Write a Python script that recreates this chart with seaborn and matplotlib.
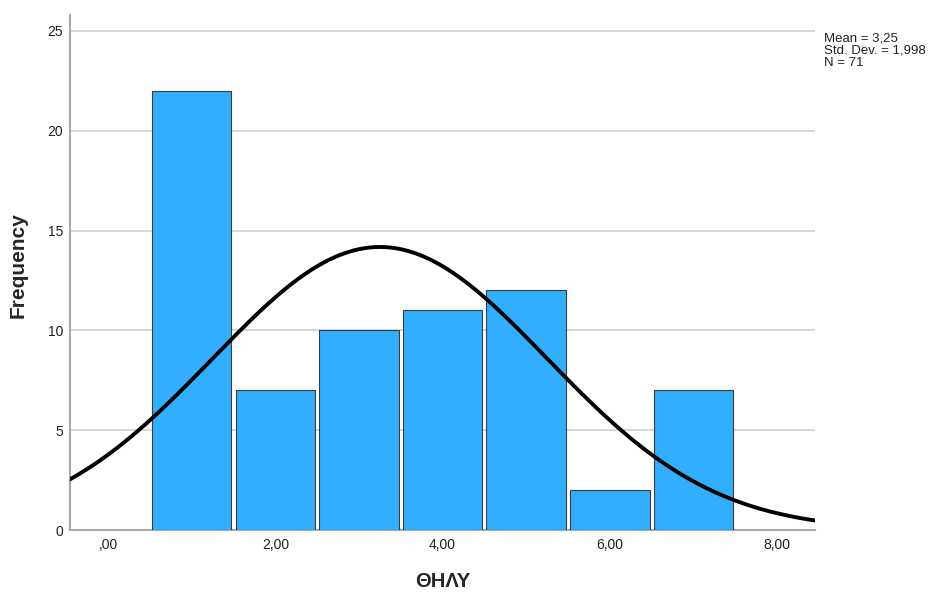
import numpy as np
import pandas as pd
import matplotlib
matplotlib.use("Agg")
import matplotlib.pyplot as plt
import seaborn as sns

# Data
values = [1, 2, 3, 4, 5, 6, 7]
counts = [22, 7, 10, 11, 12, 2, 7]
x_ticks = [0, 2, 4, 6, 8]
x_tick_labels = [",00", "2,00", "4,00", "6,00", "8,00"]
y_ticks = [0, 5, 10, 15, 20, 25]
mean_val = 3.25
sd_val = 1.998
n_val = 71
stats_text = "Mean = 3,25\nStd. Dev. = 1,998\nN = 71"

sns.set_theme(style="white")
plt.rcParams['font.family'] = ['Liberation Sans', 'DejaVu Sans']

fig = plt.figure(figsize=(9.37, 5.97), dpi=100)
ax = fig.add_axes([0.0747, 0.1122, 0.7953, 0.8628])

df = pd.DataFrame({"ΘΗΛΥ": values, "count": counts})
sns.histplot(data=df, x="ΘΗΛΥ", weights="count", binwidth=1, binrange=(0.5, 7.5),
             shrink=0.95, color="#31AEFE", edgecolor="#3c3c3c", linewidth=0.8,
             alpha=1.0, ax=ax, zorder=3)

x_lo, x_hi = -0.456, 8.456
xs = np.linspace(x_lo, x_hi, 300)
ys = n_val * 1.0 / (sd_val * np.sqrt(2 * np.pi)) * np.exp(-0.5 * ((xs - mean_val) / sd_val) ** 2)
sns.lineplot(x=xs, y=ys, color="black", linewidth=2.8, ax=ax, zorder=4)

ax.set_xlim(x_lo, x_hi)
ax.set_ylim(0, 25.8)
ax.set_xticks(x_ticks)
ax.set_xticklabels(x_tick_labels, fontsize=10, color="#222222")
ax.set_yticks(y_ticks)
ax.set_yticklabels([str(v) for v in y_ticks], fontsize=10, color="#222222")
ax.tick_params(axis="x", length=0, pad=6)
ax.tick_params(axis="y", length=0, pad=5)
for v in y_ticks[1:]:
    ax.axhline(v, color="#D0D0D0", linewidth=1.2, zorder=1)

for s in ["top", "right"]:
    ax.spines[s].set_visible(False)
for s in ["left", "bottom"]:
    ax.spines[s].set_color("#A8A8A8")
    ax.spines[s].set_linewidth(1.5)

ax.set_ylabel("Frequency", fontsize=15, fontweight="bold")
ax.set_xlabel("ΘΗΛΥ", fontsize=14.5, fontweight="bold")
ax.yaxis.label.set_va("center")
ax.xaxis.label.set_va("center")
ax.yaxis.set_label_coords(-0.0698, 0.515)
ax.xaxis.set_label_coords(0.5, -0.099)

fig.text(0.879, 0.945, stats_text, fontsize=9.5, va="top", ha="left",
         linespacing=1.0, color="#222222")

fig.savefig("out.png", dpi=100, facecolor="white")
